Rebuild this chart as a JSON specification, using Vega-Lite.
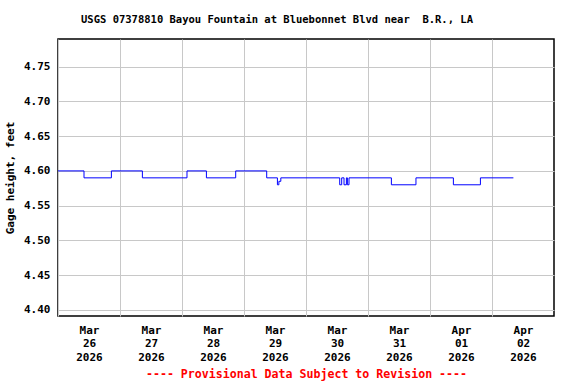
{
  "$schema": "https://vega.github.io/schema/vega-lite/v6.json",
  "autosize": {"type": "none"},
  "width": 496,
  "height": 277,
  "padding": {"left": 58, "top": 39, "right": 22, "bottom": 68},
  "background": "white",
  "title": {
    "text": "USGS 07378810 Bayou Fountain at Bluebonnet Blvd near\u00a0\u00a0B.R., LA",
    "font": "DejaVu Sans Mono",
    "fontSize": 10.5,
    "fontWeight": "bold",
    "color": "black",
    "anchor": "middle",
    "dx": -29,
    "offset": 14
  },
  "config": {
    "view": {"stroke": "black", "strokeWidth": 1.5},
    "axis": {
      "labelFont": "DejaVu Sans Mono",
      "labelFontWeight": "bold",
      "labelFontSize": 11,
      "labelColor": "black",
      "titleFont": "DejaVu Sans Mono",
      "titleFontWeight": "bold",
      "titleFontSize": 11,
      "titleColor": "black",
      "gridColor": "#c8c8c8",
      "gridOpacity": 1,
      "gridWidth": 1,
      "domain": false,
      "ticks": false
    }
  },
  "data": {
    "values": [
      {"time": "2026-03-26T00:00:00Z", "height": 4.60},
      {"time": "2026-03-26T10:04:00Z", "height": 4.59},
      {"time": "2026-03-26T20:40:00Z", "height": 4.60},
      {"time": "2026-03-27T08:40:00Z", "height": 4.59},
      {"time": "2026-03-28T01:56:00Z", "height": 4.60},
      {"time": "2026-03-28T09:27:00Z", "height": 4.59},
      {"time": "2026-03-28T20:47:00Z", "height": 4.60},
      {"time": "2026-03-29T08:47:00Z", "height": 4.59},
      {"time": "2026-03-29T12:56:00Z", "height": 4.58},
      {"time": "2026-03-29T13:30:00Z", "height": 4.585},
      {"time": "2026-03-29T14:15:00Z", "height": 4.59},
      {"time": "2026-03-30T13:03:00Z", "height": 4.58},
      {"time": "2026-03-30T13:49:00Z", "height": 4.59},
      {"time": "2026-03-30T14:43:00Z", "height": 4.58},
      {"time": "2026-03-30T15:38:00Z", "height": 4.59},
      {"time": "2026-03-30T16:01:00Z", "height": 4.58},
      {"time": "2026-03-30T16:39:00Z", "height": 4.59},
      {"time": "2026-03-31T09:03:00Z", "height": 4.58},
      {"time": "2026-03-31T18:34:00Z", "height": 4.59},
      {"time": "2026-04-01T09:03:00Z", "height": 4.58},
      {"time": "2026-04-01T19:31:00Z", "height": 4.59},
      {"time": "2026-04-02T08:17:00Z", "height": 4.59}
    ]
  },
  "mark": {"type": "line", "interpolate": "step-after", "color": "#0000ff", "strokeWidth": 1},
  "encoding": {
    "x": {
      "field": "time",
      "type": "temporal",
      "scale": {
        "type": "utc",
        "domain": [
          {"year": 2026, "month": 3, "date": 26, "utc": true},
          {"year": 2026, "month": 4, "date": 3, "utc": true}
        ]
      },
      "axis": {
        "values": [
          {"year": 2026, "month": 3, "date": 26, "utc": true},
          {"year": 2026, "month": 3, "date": 27, "utc": true},
          {"year": 2026, "month": 3, "date": 28, "utc": true},
          {"year": 2026, "month": 3, "date": 29, "utc": true},
          {"year": 2026, "month": 3, "date": 30, "utc": true},
          {"year": 2026, "month": 3, "date": 31, "utc": true},
          {"year": 2026, "month": 4, "date": 1, "utc": true},
          {"year": 2026, "month": 4, "date": 2, "utc": true}
        ],
        "labelExpr": "[utcFormat(datum.value, '%b'), utcFormat(datum.value, '%d'), utcFormat(datum.value, '%Y')]",
        "labelOffset": 31,
        "labelPadding": 8,
        "labelLineHeight": 13.5,
        "labelAlign": "center",
        "labelFlush": false,
        "labelOverlap": false,
        "title": "---- Provisional Data Subject to Revision ----",
        "titleColor": "#ff0000",
        "titleFontSize": 11.6,
        "titlePadding": 6
      }
    },
    "y": {
      "field": "height",
      "type": "quantitative",
      "scale": {"domain": [4.391, 4.79], "nice": false, "zero": false},
      "axis": {
        "values": [4.40, 4.45, 4.50, 4.55, 4.60, 4.65, 4.70, 4.75],
        "format": ".2f",
        "labelPadding": 8,
        "title": "Gage height, feet",
        "titlePadding": 8
      }
    }
  }
}
